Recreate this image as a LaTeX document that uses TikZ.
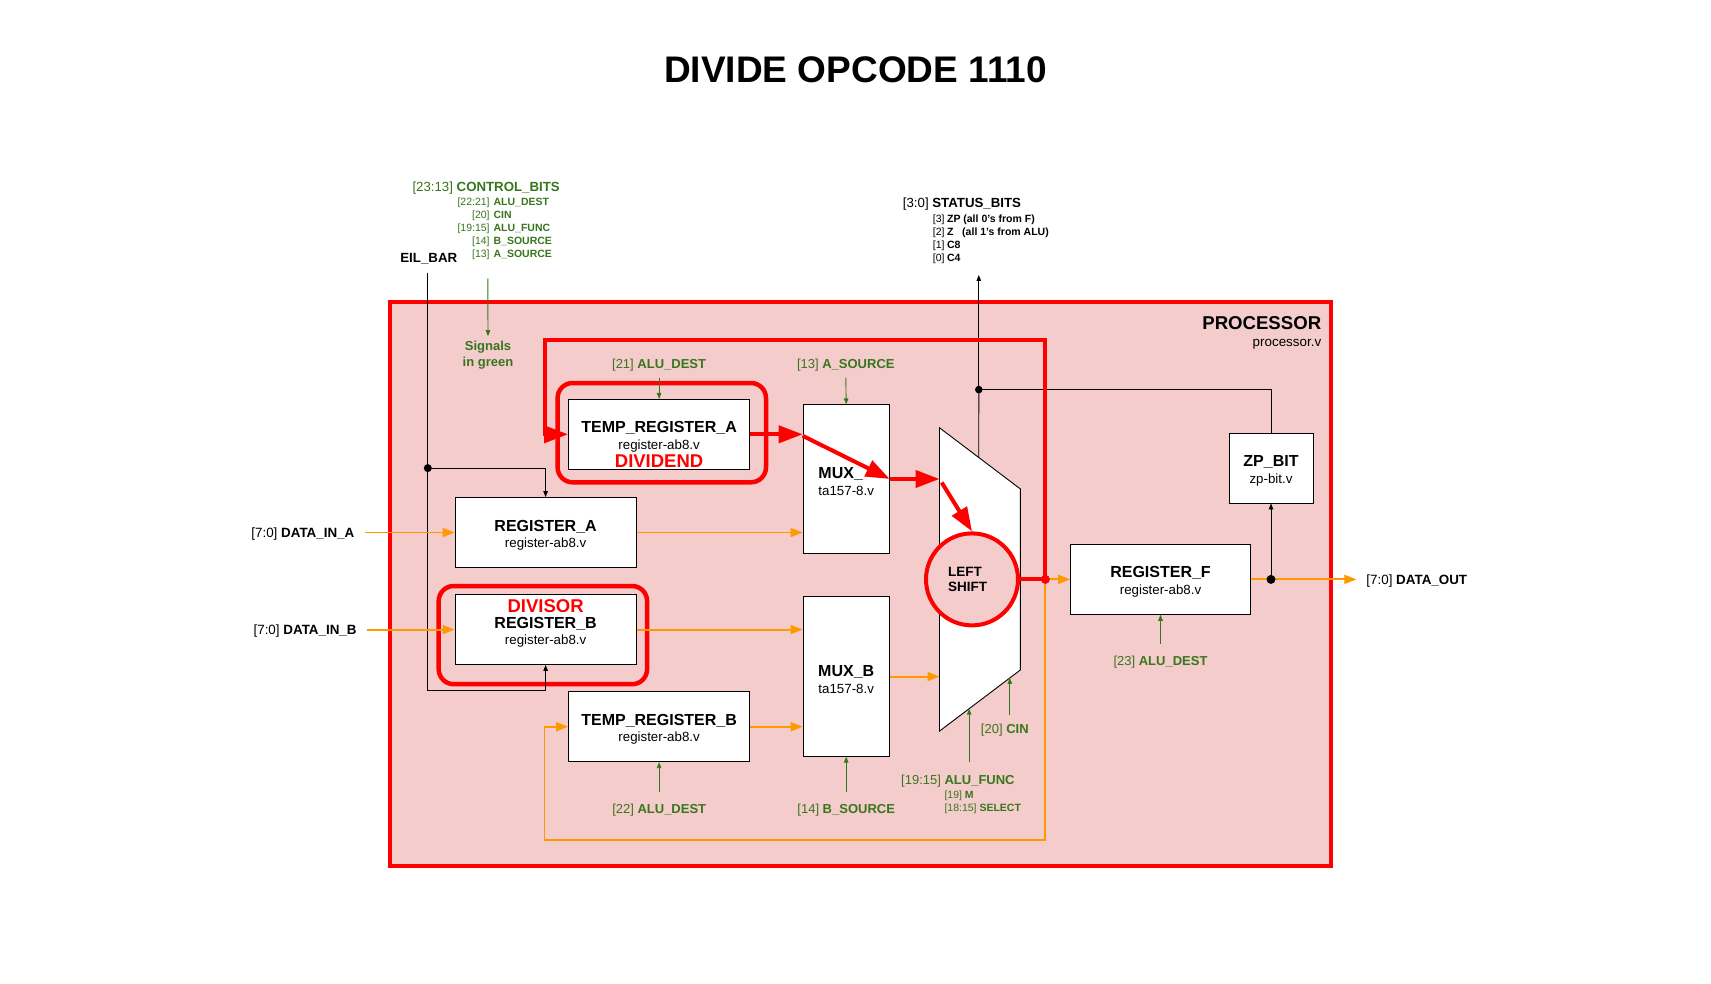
\documentclass[tikz,border=0pt]{standalone}
\usepackage{fontspec}
\setmainfont{Liberation Sans}
\usetikzlibrary{arrows.meta,calc}
\definecolor{procfill}{HTML}{F4CCCC}
\definecolor{pred}{HTML}{FF0000}
\definecolor{porange}{HTML}{FF9900}
\definecolor{pgreen}{HTML}{38761D}
\newcommand\myT{\fontsize{16}{16.6}\selectfont\bfseries}
\newcommand\bxt[2]{{\rule{0pt}{16.5pt}\myT #1}\\#2}
\begin{document}
\begin{tikzpicture}[x=1pt,y=-1pt,
  blkbox/.style={draw=black,fill=white,line width=0.9pt,inner sep=0pt,align=center,font=\fontsize{13.3}{16.6}\selectfont},
  thinblk/.style={draw=black,line width=0.9pt},
  blkarr/.style={thinblk,-{Triangle[length=6pt,width=4.5pt]}},
  grnarr/.style={draw=pgreen,line width=0.9pt,-{Triangle[length=6pt,width=4.5pt]}},
  orgline/.style={draw=porange,line width=1.9pt},
  orgarr/.style={orgline,-{Triangle[length=12pt,width=9pt]}},
  redline/.style={draw=pred,line width=4pt},
  redarr/.style={redline,-{Triangle[length=24pt,width=17pt]}},
  hilite/.style={draw=pred,line width=4.5pt,rounded corners=15pt},
  glab/.style={text=pgreen,font=\fontsize{13}{15}\selectfont,inner sep=0pt,anchor=base},
  lab/.style={font=\fontsize{13.4}{15}\selectfont,inner sep=0pt},
]
\useasboundingbox (0,0) rectangle (1711,984);
\fill[white] (0,0) rectangle (1711,984);

% title
\node[font=\fontsize{37}{40}\selectfont\bfseries,inner sep=0pt] (title) at (855.5,69.8) {DIVIDE OPCODE 1110};

% processor
\node[draw=pred,line width=4pt,fill=procfill,minimum width=941.7pt,minimum height=564.1pt,inner sep=0pt] (proc) at (860.45,584.35) {};
\node[anchor=east,font=\fontsize{18.6}{20}\selectfont\bfseries,inner sep=0pt] (proclab) at (1321.4,323) {PROCESSOR};
\node[anchor=base east,lab] (procv) at (1321.4,347) {processor.v};

% highlights
\draw[hilite] (557.6,383) rectangle (766,482.3);
\draw[hilite] (438.7,586) rectangle (647.1,684.2);

% boxes
\node[blkbox,minimum width=181.2pt,minimum height=69.8pt] (tempA) at (659.1,434.3) {\bxt{TEMP\_REGISTER\_A}{register-ab8.v}};
\node[blkbox,minimum width=181.2pt,minimum height=69.8pt] (regA) at (545.6,532.5) {\bxt{REGISTER\_A}{register-ab8.v}};
\node[blkbox,minimum width=181.2pt,minimum height=69.8pt] (regB) at (545.6,629.6) {\bxt{REGISTER\_B}{register-ab8.v}};
\node[blkbox,minimum width=181.2pt,minimum height=69.9pt] (tempB) at (659.1,726.75) {\bxt{TEMP\_REGISTER\_B}{register-ab8.v}};
\node[blkbox,align=left,minimum width=86.2pt,minimum height=148.4pt] (muxA) at (846.2,479) {\bxt{MUX\_}{ta157-8.v}};
\node[blkbox,minimum width=86.2pt,minimum height=159.3pt] (muxB) at (846.2,676.55) {\bxt{MUX\_B}{ta157-8.v}};
\node[blkbox,minimum width=180pt,minimum height=69.8pt] (regF) at (1160.5,579.4) {\bxt{REGISTER\_F}{register-ab8.v}};
\node[blkbox,minimum width=84pt,minimum height=69.8pt] (zp) at (1271,468.1) {\bxt{ZP\_BIT}{zp-bit.v}};

\node[anchor=base,text=pred,font=\fontsize{18.5}{20}\selectfont\bfseries,inner sep=0pt] (dvd) at (659.1,467.3) {DIVIDEND};
\node[anchor=base,text=pred,font=\fontsize{18.5}{20}\selectfont\bfseries,inner sep=0pt] (dvs) at (545.6,612.3) {DIVISOR};

% ALU trapezoid
\coordinate (aluA) at (939.5,427.8);
\coordinate (aluB) at (1020.3,488.9);
\coordinate (aluC) at (1020.3,670);
\coordinate (aluD) at (939.5,731.1);
\draw[thinblk,fill=white] (aluA) -- (aluB) -- (aluC) -- (aluD) -- cycle;

\node[circle,draw=pred,line width=4pt,fill=procfill,minimum size=92pt,inner sep=0pt,text width=48pt,align=left,font=\fontsize{13.5}{15.5}\selectfont\bfseries] (lsh) at (972,579.4) {LEFT\\SHIFT};

% outside labels
\node[anchor=base east,lab] (dinA) at (354.6,537.2) {[7:0] \textbf{DATA\_IN\_A}};
\node[anchor=base east,lab] (dinB) at (356.8,634.3) {[7:0] \textbf{DATA\_IN\_B}};
\node[anchor=base west,lab] (dout) at (1366.2,584.1) {[7:0] \textbf{DATA\_OUT}};
\node[font=\fontsize{13.3}{15}\selectfont\bfseries,inner sep=0pt] (eil) at (428.8,258.5) {EIL\_BAR};

\node[anchor=base west,text=pgreen,font=\fontsize{13.25}{15}\selectfont,inner sep=0pt] (cb) at (412.3,191.8) {[23:13] \textbf{CONTROL\_BITS}};
\node[anchor=base west,text=pgreen,font=\fontsize{10.5}{13}\selectfont,inner sep=0pt] (cbsub) at (457.3,205.7)
 {\begin{tabular}[t]{@{}r@{\hspace{4pt}}l@{}}[22:21] & \textbf{ALU\_DEST}\\{}[20] & \textbf{CIN}\\{}[19:15] & \textbf{ALU\_FUNC}\\{}[14] & \textbf{B\_SOURCE}\\{}[13] & \textbf{A\_SOURCE}\end{tabular}};

\node[anchor=base west,font=\fontsize{13.25}{15}\selectfont,inner sep=0pt] (stat) at (902.7,207.5) {[3:0] \textbf{STATUS\_BITS}};
\node[anchor=base west,font=\fontsize{10.5}{13.1}\selectfont,inner sep=0pt] (statsub) at (932.7,222.2)
 {\begin{tabular}[t]{@{}l@{\hspace{2.5pt}}l@{}}[3] & \textbf{ZP (all 0's from F)}\\{}[2] & \textbf{Z\ \ \ (all 1's from ALU)}\\{}[1] & \textbf{C8}\\{}[0] & \textbf{C4}\end{tabular}};

\node[text=pgreen,align=center,font=\fontsize{13}{16}\selectfont\bfseries,inner sep=0pt] (sig) at (488,355.5) {Signals\\in green};

% green signal labels
\node[glab] (ad21) at (659.1,368.3) {[21] \textbf{ALU\_DEST}};
\node[glab] (as13) at (845.8,368.3) {[13] \textbf{A\_SOURCE}};
\node[glab] (ad22) at (659.2,813.3) {[22] \textbf{ALU\_DEST}};
\node[glab] (bs14) at (846.2,813.3) {[14] \textbf{B\_SOURCE}};
\node[glab] (af) at (957.9,784.3) {[19:15] \textbf{ALU\_FUNC}};
\node[anchor=base west,text=pgreen,font=\fontsize{10.5}{12.7}\selectfont,inner sep=0pt] (afsub) at (944.3,798.3)
 {\begin{tabular}[t]{@{}l@{}}[19] \textbf{M}\\{}[18:15] \textbf{SELECT}\end{tabular}};
\node[glab] (cin) at (1004.8,733.3) {[20] \textbf{CIN}};
\node[glab] (ad23) at (1160.5,665) {[23] \textbf{ALU\_DEST}};

% green arrows
\coordinate (g21) at (659.1,377.6);
\coordinate (g13) at (845.8,377.6);
\coordinate (g22) at (659.1,791.7);
\coordinate (g14) at (846.2,791.7);
\coordinate (gaf) at (969.2,761.7);
\coordinate (gcin) at (1009.8,715);
\coordinate (g23) at (1160.5,643.5);
\coordinate (gcb) at (487.8,278.5);
\draw[grnarr] (g21) -- (tempA.north);
\draw[grnarr] (g13) -- (muxA.north);
\draw[grnarr] (g22) -- (tempB.south);
\draw[grnarr] (g14) -- (muxB.south);
\draw[grnarr] (gaf) -- (gaf |- {$(aluD)!0.366!(aluC)$});
\draw[grnarr] (gcin) -- (gcin |- {$(aluD)!0.87!(aluC)$});
\draw[grnarr] (g23) -- (regF.south);
\draw[grnarr] (gcb) -- ([yshift=5pt]sig.north);

% EIL_BAR lines
\coordinate (eTop) at (427.8,272.8);
\coordinate (eBot) at (427.8,690.7);
\coordinate (jE) at (427.8,468.1);
\draw[blkarr] (eTop) -- (eBot) -| (regB.south);
\draw[blkarr] (jE) -| (regA.north);
\fill (jE) circle (4);

% orange data paths
\coordinate (jR) at (1045.4,579.4);
\coordinate (oBR) at (1045.4,840.2);
\coordinate (oBL) at (544.5,840.2);
\coordinate (jB) at (1271,579.4);
\coordinate (dinAend) at (364.5,532.5);
\coordinate (dinBend) at (366.6,629.6);
\coordinate (doutend) at (1356.4,579.4);
\draw[orgarr] (dinAend) -- (regA.west);
\draw[orgarr] (dinBend) -- (regB.west);
\draw[orgarr] (regA.east) -- (regA.east -| muxA.west);
\draw[orgarr] (regB.east) -- (regB.east -| muxB.west);
\draw[orgarr] (tempB.east) -- (tempB.east -| muxB.west);
\draw[orgarr] (muxB.east) -- (muxB.east -| aluD);
\draw[orgarr] (jR) -- (regF.west);
\draw[orgarr] (jR) -- (oBR) -- (oBL) |- (tempB.west);
\draw[orgarr] (regF.east) -- (doutend);

% status / zp lines
\coordinate (jT) at (978.8,389.6);
\coordinate (stEnd) at (978.8,275);
\draw[blkarr] (jB) -- (zp.south);
\draw[thinblk] (zp.north) |- (jT);
\draw[blkarr] (jT) -- (stEnd);
\draw[thinblk] (jT) -- ($(aluA)!0.486!(aluB)$);
\fill (jT) circle (3.8);
\fill (jB) circle (4.5);

% red path
\coordinate (rTop) at (1045.4,340.5);
\coordinate (lTop) at (544.5,340.5);
\draw[redline] (lsh.east) -- (jR);
\draw[redarr] (jR) -- (rTop) -- (lTop) |- (tempA.west);
\draw[redarr] (tempA.east) -- (tempA.east -| muxA.west);
\draw[redarr] ([yshift=-1.5pt]tempA.east -| muxA.west) -- (muxA.east);
\draw[redarr] (muxA.east) -- (muxA.east -| aluA);
\draw[redarr] ($(muxA.east -| aluA)+(2.2,3.5)$) -- (lsh.north);
\fill[pred] (jR) circle (4.5);
\end{tikzpicture}
\end{document}
